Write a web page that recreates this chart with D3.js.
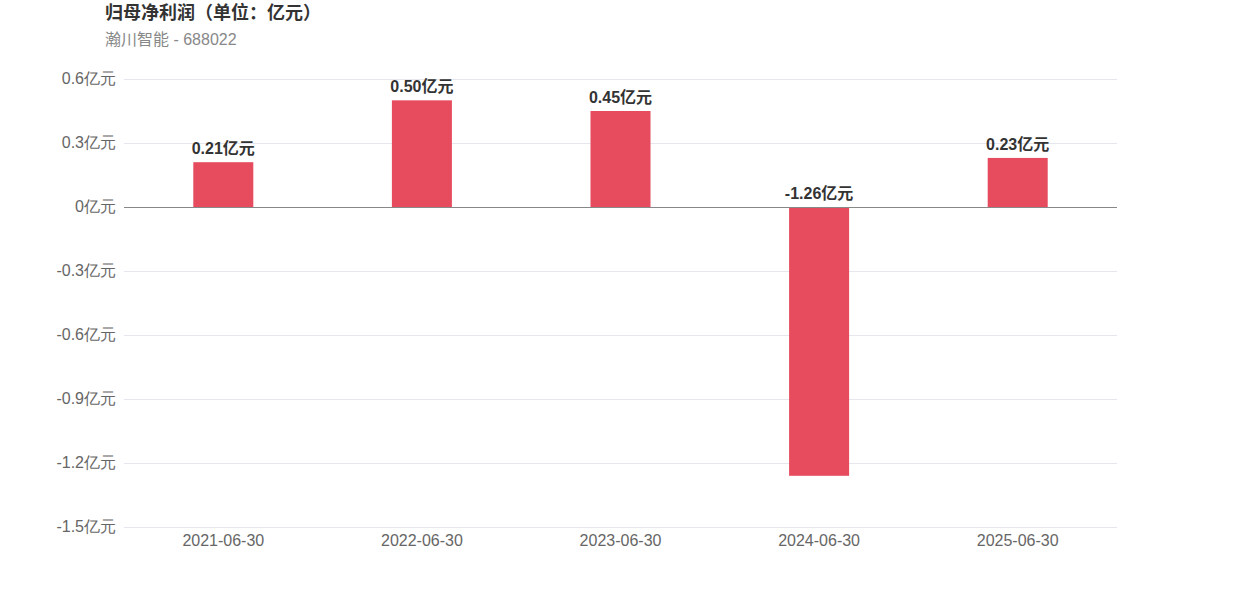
<!DOCTYPE html>
<html><head><meta charset="utf-8">
<script src="https://cdn.jsdelivr.net/npm/d3@7/dist/d3.min.js"></script>
<style>
body{margin:0;background:#fff;}
svg{font-family:"Liberation Sans","Noto Sans CJK SC",Arial,sans-serif;}
</style></head>
<body><svg id="c" width="1242" height="596"></svg>
<script>
const categories = ["2021-06-30","2022-06-30","2023-06-30","2024-06-30","2025-06-30"];
const values = [0.21, 0.50, 0.45, -1.26, 0.23];
const yTicks = [0.6, 0.3, 0, -0.3, -0.6, -0.9, -1.2, -1.5];
const title = "归母净利润（单位：亿元）";
const subtitle = "瀚川智能 - 688022";

const svg = d3.select("#c");
const x = d3.scaleBand().domain(categories).range([124, 1117]).paddingInner(0).paddingOuter(0);
const y = d3.scaleLinear().domain([-1.5, 0.6]).range([527, 79]);
const barW = 60;

svg.append("text").attr("x",105).attr("y",19).attr("font-size",18).attr("font-weight","bold").attr("fill","#333").text(title);
svg.append("text").attr("x",105).attr("y",45).attr("font-size",16).attr("fill","#888").text(subtitle);

const fmt = v => (v===0?"0":d3.format(".1f")(v).replace("\u2212","-")) + "亿元";
const yAxis = d3.axisLeft(y).tickValues(yTicks).tickSize(0).tickPadding(8).tickFormat(fmt);
const gy = svg.append("g").attr("transform","translate(124,0)").call(yAxis);
gy.select(".domain").remove();
gy.selectAll("text").attr("font-size",16).attr("fill","#666").attr("font-family","inherit").attr("dy","0.3em");

svg.append("g").selectAll("line").data(yTicks.filter(t=>t!==0)).join("line")
  .attr("x1",124).attr("x2",1117).attr("y1",d=>y(d)+0.5).attr("y2",d=>y(d)+0.5)
  .attr("stroke","#e6e6ef").attr("stroke-width",1);

const xAxis = d3.axisBottom(x).tickSize(0).tickPadding(8);
const gx = svg.append("g").attr("transform","translate(0,527)").call(xAxis);
gx.select(".domain").remove();
gx.selectAll("text").attr("font-size",16).attr("fill","#666").attr("font-family","inherit");

svg.append("g").selectAll("rect").data(values).join("rect")
  .attr("x",(d,i)=>x(categories[i])+x.bandwidth()/2-barW/2)
  .attr("width",barW)
  .attr("y",d=>y(Math.max(0,d)))
  .attr("height",d=>Math.abs(y(d)-y(0)))
  .attr("fill","#e64b5e");

svg.append("line").attr("x1",124).attr("x2",1117).attr("y1",y(0)+0.5).attr("y2",y(0)+0.5)
  .attr("stroke","#888").attr("stroke-width",1);

svg.append("g").selectAll("text").data(values).join("text")
  .attr("x",(d,i)=>x(categories[i])+x.bandwidth()/2)
  .attr("y",d=>y(Math.max(0,d))-8)
  .attr("text-anchor","middle").attr("font-size",16).attr("font-weight","bold").attr("fill","#333")
  .text(d=>d3.format(".2f")(d).replace("\u2212","-")+"亿元");
</script></body></html>
